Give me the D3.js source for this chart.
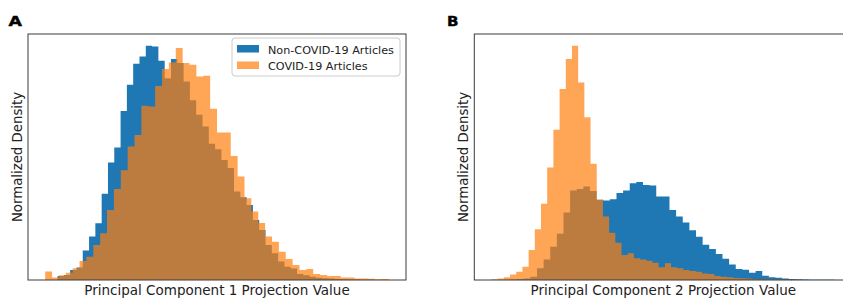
<!DOCTYPE html>
<html>
<head>
<meta charset="utf-8">
<script src="https://cdn.jsdelivr.net/npm/d3@7"></script>
<style>
  body { margin: 0; background: #fff; }
  svg { display: block; font-family: "DejaVu Sans", sans-serif; }
</style>
</head>
<body>
<div id="chart"></div>
<script>
// Series names and labels
const seriesNames = ["Non-COVID-19 Articles", "COVID-19 Articles"];
const xLabels = ["Principal Component 1 Projection Value", "Principal Component 2 Projection Value"];
const yLabel = "Normalized Density";
const panelLetters = ["A", "B"];

// PC1 histograms (50 bins each, bin start + width in projection units)
const pc1NonCovidStart = -1.82, pc1NonCovidWidth = 0.0917;
const pc1NonCovid = [1.7, 2.1, 4.3, 5.4, 12.6, 18.6, 24.3, 36.9, 50.3, 56.7,
  72.4, 83.6, 92.6, 95.7, 100.3, 100, 93.9, 86.4, 94.6, 92.9,
  85, 77, 70.7, 65.7, 58.3, 56, 51.4, 47.9, 37.9, 35.4,
  32.1, 25.7, 21.4, 15, 11.4, 7.9, 5.7, 4.9, 2.6, 2,
  1.4, 1, 0.8, 0.6, 0.4, 0.3, 0.2, 0.2, 0.1, 0.1];
const pc1CovidStart = -2.0, pc1CovidWidth = 0.1;
const pc1Covid = [3.6, 1.1, 2.0, 3.1, 5.0, 8.1, 10, 15, 20, 30,
  39, 47, 57.1, 62.1, 74.6, 74.3, 83.1, 90.3, 93.1, 99.3,
  92.9, 92.1, 87.1, 87.4, 73.3, 63.1, 63.1, 53.1, 44.3, 35,
  29.3, 24.4, 18.6, 16.4, 12.1, 9, 6.4, 4.3, 4.7, 2.6,
  2.1, 1.7, 1.7, 1.1, 1.1, 0.6, 0.6, 0.5, 0.3, 0.4];

// PC2 histograms
const pc2NonCovidStart = -1.30, pc2NonCovidWidth = 0.107;
const pc2NonCovid = [0.1, 0.2, 0.4, 0.6, 1.4, 5, 8.8, 14.2, 19.7, 28.8,
  38.2, 38.8, 39.9, 38, 34.2, 33.9, 34.5, 37.1, 38.2, 41.3,
  41.8, 40.6, 40.3, 35.6, 35.6, 29.9, 27.1, 24.5, 21.2, 18.5,
  15, 13.2, 11.1, 9.1, 6.6, 4.7, 4.4, 3.1, 3.8, 1.8,
  1.2, 1, 0.6, 0.4, 0.3, 0.2, 0.1, 0.1, 0.1, 0.1];
const pc2CovidStart = -1.5, pc2CovidWidth = 0.1;
const pc2Covid = [0.3, 0.6, 1.2, 2.4, 3.5, 5.7, 12.8, 21.7, 32.5, 48,
  64.1, 81.5, 94.3, 100, 84.3, 69.5, 49.6, 34.2, 27.1, 20.2,
  15.9, 10.7, 11.4, 9.3, 8.8, 8.2, 7.4, 5.4, 7.1, 5.4,
  5, 4.3, 3.8, 3.5, 2.8, 2.6, 1.7, 1.4, 1.2, 0.9,
  0.7, 0.6, 0.4, 0.3, 0.3, 0.2, 0.2, 0.1, 0.1, 0.1];

const blue = "#1f77b4";
const orange = "#ff7f0e";

const width = 843, height = 299;
const plotW = 378, plotH = 246, plotTop = 34;

const svg = d3.select("#chart")
  .append("svg")
  .attr("width", width)
  .attr("height", height);

function toBins(start, w, values) {
  return values.map((v, i) => ({ x0: start + i * w, x1: start + (i + 1) * w, v: v }));
}

const panels = [
  {
    left: 28, letterX: 8.5, ylabX: 21.5, xLabel: xLabels[0], legend: true,
    nonCovid: toBins(pc1NonCovidStart, pc1NonCovidWidth, pc1NonCovid),
    covid: toBins(pc1CovidStart, pc1CovidWidth, pc1Covid)
  },
  {
    left: 474.3, letterX: 447, ylabX: 467.5, xLabel: xLabels[1], legend: false,
    nonCovid: toBins(pc2NonCovidStart, pc2NonCovidWidth, pc2NonCovid),
    covid: toBins(pc2CovidStart, pc2CovidWidth, pc2Covid)
  }
];

panels.forEach((p, k) => {
  const all = p.nonCovid.concat(p.covid);
  const lo = d3.min(all, d => d.x0), hi = d3.max(all, d => d.x1);
  const pad = 0.05 * (hi - lo);

  const x = d3.scaleLinear().domain([lo - pad, hi + pad]).range([p.left, p.left + plotW]);
  const y = d3.scaleLinear().domain([0, d3.max(all, d => d.v) * 1.05]).range([plotTop + plotH, plotTop]);

  const g = svg.append("g");

  // step outline of a histogram as one filled shape
  const area = d3.area()
    .curve(d3.curveStepAfter)
    .x(d => x(d[0]))
    .y0(y(0))
    .y1(d => y(d[1]));
  const pts = bins => bins.map(b => [b.x0, b.v]).concat([[bins[bins.length - 1].x1, bins[bins.length - 1].v]]);

  g.append("path")
    .attr("d", area(pts(p.nonCovid)))
    .attr("fill", blue);

  g.append("path")
    .attr("d", area(pts(p.covid)))
    .attr("fill", orange)
    .attr("fill-opacity", 0.7);

  // frame
  g.append("rect")
    .attr("x", p.left)
    .attr("y", plotTop)
    .attr("width", plotW)
    .attr("height", plotH)
    .attr("fill", "none")
    .attr("stroke", "#3a3a3a")
    .attr("stroke-width", 1);

  // panel letter (wide, heavy face in the original)
  g.append("text")
    .attr("x", p.letterX)
    .attr("y", 25.5)
    .attr("font-size", 14)
    .attr("font-weight", "bold")
    .attr("fill", "#000")
    .attr("stroke", "#000")
    .attr("stroke-width", 0.4)
    .attr("textLength", k === 0 ? 13.5 : 11.5)
    .attr("lengthAdjust", "spacingAndGlyphs")
    .text(panelLetters[k]);

  // axis labels
  g.append("text")
    .attr("x", p.left + plotW / 2)
    .attr("y", 295)
    .attr("text-anchor", "middle")
    .attr("font-size", 13.5)
    .attr("fill", "#222")
    .text(p.xLabel);

  g.append("text")
    .attr("transform", `translate(${p.ylabX},${plotTop + plotH / 2}) rotate(-90)`)
    .attr("text-anchor", "middle")
    .attr("font-size", 13.3)
    .attr("fill", "#222")
    .text(yLabel);

  if (p.legend) {
    const lg = g.append("g").attr("transform", "translate(232,38)");
    lg.append("rect")
      .attr("width", 168)
      .attr("height", 38)
      .attr("rx", 3)
      .attr("fill", "#fff")
      .attr("fill-opacity", 0.8)
      .attr("stroke", "#cccccc");
    const items = lg.selectAll(".item")
      .data(seriesNames)
      .enter()
      .append("g")
      .attr("class", "item")
      .attr("transform", (d, i) => `translate(5,${7 + i * 16.5})`);
    items.append("rect")
      .attr("width", 22)
      .attr("height", 7.5)
      .attr("fill", (d, i) => i === 0 ? blue : orange)
      .attr("fill-opacity", (d, i) => i === 0 ? 1 : 0.7);
    items.append("text")
      .attr("x", 31)
      .attr("y", 8.5)
      .attr("font-size", 11.2)
      .attr("fill", "#222")
      .text(d => d);
  }
});
</script>
</body>
</html>
